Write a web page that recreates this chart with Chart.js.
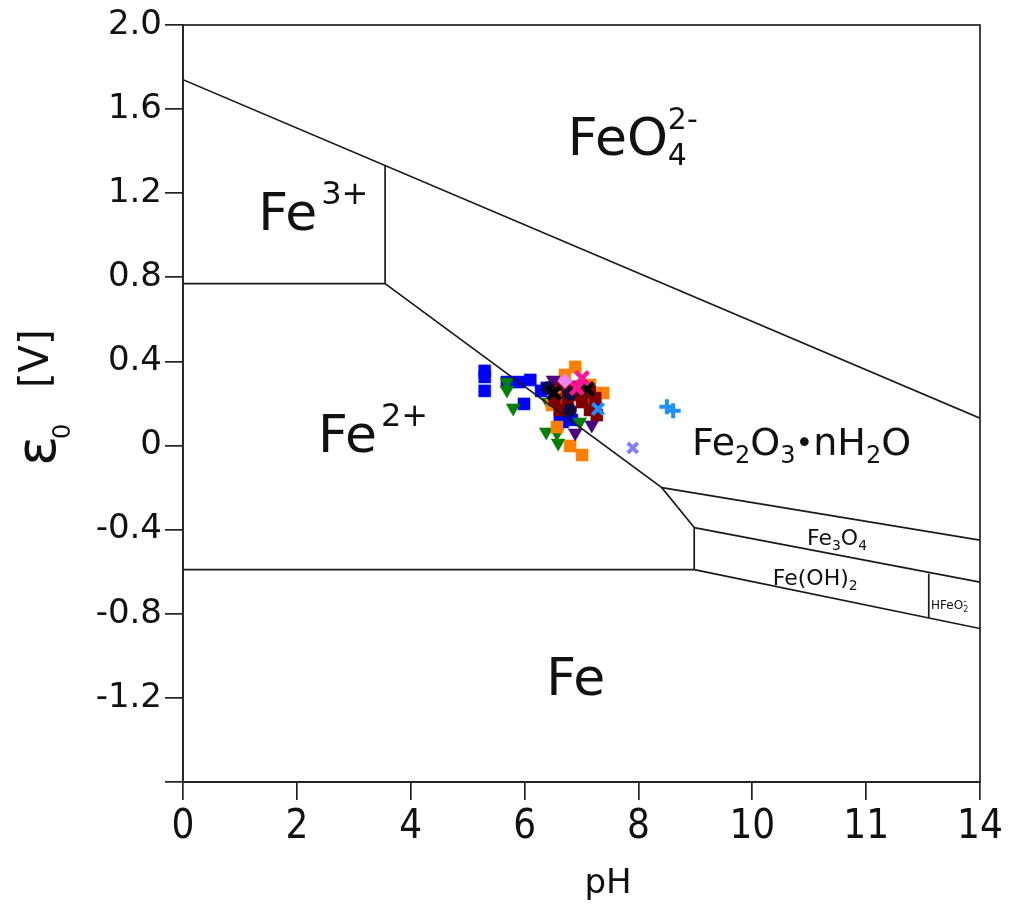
<!DOCTYPE html>
<html>
<head>
<meta charset="utf-8">
<title>Pourbaix diagram - iron</title>
<script src="https://cdn.jsdelivr.net/npm/chart.js@4.4.1/dist/chart.umd.min.js"></script>
<style>
  body { margin: 0; background: #fff; }
  #wrap { width: 1010px; height: 907px; }
</style>
</head>
<body>
<div id="wrap"><canvas id="pourbaix" width="1010" height="907"></canvas></div>
<script>
// axis ticks
var xTickValues = [0, 2, 4, 6, 8, 10, 12, 14];
var xTickLabels = ['0', '2', '4', '6', '8', '10', '11', '14'];
var yTickValues = [-1.6, -1.2, -0.8, -0.4, 0, 0.4, 0.8, 1.2, 1.6, 2.0];
var yTickLabels = ['', '-1.2', '-0.8', '-0.4', '0', '0.4', '0.8', '1.2', '1.6', '2.0'];

// stability field boundaries (pH, E0)
var lineFeO4 = [[0, 1.74], [14, 0.13]];
var lineFe3Fe2 = [[0, 0.77], [3.55, 0.77]];
var lineFe3Oxide = [[3.55, 0.77], [3.55, 1.33]];
var lineFe2Oxide = [[3.55, 0.77], [8.41, -0.20], [8.98, -0.39]];
var lineOxideFe3O4 = [[8.41, -0.20], [14, -0.45]];
var lineFe3O4FeOH2 = [[8.98, -0.39], [14, -0.65]];
var lineFe2FeOH2 = [[8.98, -0.39], [8.98, -0.59]];
var lineFe2Fe = [[0, -0.59], [8.98, -0.59]];
var lineFeOH2Fe = [[8.98, -0.59], [14, -0.87]];
var lineHFeO2 = [[13.1, -0.61], [13.1, -0.82]];

// measured samples (pH, E0), one list per sample group
var blueSquares = [[5.30, 0.355], [5.30, 0.326], [5.30, 0.260], [5.69, 0.302], [5.90, 0.302], [6.10, 0.312],
  [6.29, 0.260], [5.99, 0.198], [6.39, 0.274], [6.67, 0.112], [6.83, 0.122], [6.62, 0.131], [7.24, 0.193]];
var greenTriangles = [[5.69, 0.302], [5.69, 0.264], [5.80, 0.179], [6.41, 0.207], [6.38, 0.065], [6.57, 0.060],
  [6.59, 0.012], [6.97, 0.112]];
var orangeSquares = [[6.89, 0.374], [7.38, 0.250], [6.80, -0.002], [7.01, -0.045], [6.57, 0.088], [6.48, 0.193],
  [6.67, 0.226], [7.06, 0.217], [7.15, 0.288], [6.71, 0.336]];
var maroonSquares = [[6.57, 0.288], [6.75, 0.274], [6.94, 0.279], [7.15, 0.255], [6.53, 0.217], [6.76, 0.217],
  [7.01, 0.207], [7.24, 0.226], [6.62, 0.169], [7.15, 0.169], [7.27, 0.145], [6.89, 0.241]];
var indigoTriangles = [[6.50, 0.312], [6.89, 0.060], [7.18, 0.098]];
var navyCircles = [[6.41, 0.274], [6.80, 0.245], [6.80, 0.169]];
var blackCrosses = [[6.52, 0.250], [7.10, 0.269]];
var pinkCrosses = [[7.01, 0.321], [6.92, 0.274]];
var violetDiamonds = [[6.71, 0.307]];
var skyCrosses = [[7.29, 0.174]];
var skyPluses = [[8.50, 0.184], [8.61, 0.165]];
var slateCrosses = [[7.90, -0.011]];

// region names: [pH, E0 of text start/baseline, parts]
// part = [text, font size, vertical shift, keep x (stacked), extra gap after]
var regionLabels = [
  [6.76, 1.382, [['FeO', 52, 0], ['2-', 30, -26, true], ['4', 30, 10]]],
  [1.32, 1.025, [['Fe', 52, 0, false, 4], ['3+', 32, -26]]],
  [2.37, -0.03, [['Fe', 52, 0, false, 4], ['2+', 32, -26]]],
  [8.94, -0.045, [['Fe', 38, 0], ['2', 24, 8], ['O', 38, 0], ['3', 24, 8], ['\u2022', 30, -2], ['nH', 38, 0], ['2', 24, 8], ['O', 38, 0]]],
  [6.38, -1.186, [['Fe', 52, 0]]],
  [10.96, -0.473, [['Fe', 22, 0], ['3', 14, 5], ['O', 22, 0], ['4', 14, 5]]],
  [10.36, -0.663, [['Fe(OH)', 22, 0], ['2', 14, 5]]],
  [13.14, -0.777, [['HFeO', 12, 0], ['-', 9, -5, true], ['2', 8, 3]]]
];

function toPoints(list) {
  return list.map(function (p) { return { x: p[0], y: p[1] }; });
}

function boundary(list) {
  return {
    type: 'line', data: toPoints(list), showLine: true, fill: false,
    borderColor: '#1a1a1a', borderWidth: 1.7, pointRadius: 0, tension: 0
  };
}

function marks(list, style, color, radius, rotation, lineWidth) {
  var isLine = (style === 'cross' || style === 'crossRot');
  return {
    data: toPoints(list), pointStyle: style, pointRadius: radius, pointRotation: rotation || 0,
    backgroundColor: color, borderColor: color, borderWidth: isLine ? lineWidth : 0.5
  };
}

// draws a run of text pieces with sub/superscripts
function drawRich(ctx, x, y, parts) {
  var cx = x;
  parts.forEach(function (p) {
    ctx.font = p[1] + 'px "DejaVu Sans"';
    ctx.fillText(p[0], cx, y + p[2]);
    if (!p[3]) cx += ctx.measureText(p[0]).width + (p[4] || 0);
  });
}

var pourbaixDecor = {
  id: 'pourbaixDecor',
  afterDraw: function (chart) {
    var ctx = chart.ctx;
    var a = chart.chartArea;
    var xs = chart.scales.x, ys = chart.scales.y;
    ctx.save();
    // box around the plot
    ctx.strokeStyle = '#222';
    ctx.lineWidth = 1.7;
    ctx.strokeRect(a.left, a.top, a.right - a.left, a.bottom - a.top);

    ctx.fillStyle = '#111';
    ctx.textBaseline = 'alphabetic';
    ctx.textAlign = 'left';
    regionLabels.forEach(function (r) {
      drawRich(ctx, xs.getPixelForValue(r[0]), ys.getPixelForValue(r[1]), r[2]);
    });

    // axis titles
    ctx.font = '34px "DejaVu Sans"';
    ctx.textAlign = 'center';
    ctx.fillText('pH', 608, 893);

    ctx.translate(55, 466);
    ctx.rotate(-Math.PI / 2);
    ctx.textAlign = 'left';
    ctx.font = '56px "DejaVu Sans"';
    ctx.fillText('\u03b5', 0, 0);
    ctx.font = '24px "DejaVu Sans"';
    ctx.fillText('0', 27, 15);
    ctx.font = '40px "DejaVu Sans"';
    ctx.fillText('[V]', 78, -7);
    ctx.restore();
  }
};

var datasets = [
  boundary(lineFeO4), boundary(lineFe3Fe2), boundary(lineFe3Oxide), boundary(lineFe2Oxide),
  boundary(lineOxideFe3O4), boundary(lineFe3O4FeOH2), boundary(lineFe2FeOH2), boundary(lineFe2Fe),
  boundary(lineFeOH2Fe), boundary(lineHFeO2),
  marks(skyPluses, 'cross', '#1e90ff', 7.5, 0, 4),
  marks(skyCrosses, 'crossRot', '#1e90ff', 8, 0, 4),
  marks(slateCrosses, 'crossRot', '#8080ff', 7, 0, 4),
  marks(violetDiamonds, 'rectRot', '#ee82ee', 7.5, 0),
  marks(pinkCrosses, 'crossRot', '#ff1493', 9, 0, 4.5),
  marks(blackCrosses, 'crossRot', '#000000', 9, 0, 4.5),
  marks(navyCircles, 'circle', '#0b0b40', 6.5, 0),
  marks(indigoTriangles, 'triangle', '#4b0082', 8, 180),
  marks(maroonSquares, 'rect', '#800000', 8.5, 0),
  marks(orangeSquares, 'rect', '#ff8000', 8.5, 0),
  marks(greenTriangles, 'triangle', '#008000', 8, 180),
  marks(blueSquares, 'rect', '#0000ff', 8.5, 0)
];

var tickFont = { family: '"DejaVu Sans"', size: 34 };

new Chart(document.getElementById('pourbaix'), {
  type: 'scatter',
  data: { datasets: datasets },
  options: {
    responsive: false,
    animation: false,
    layout: { padding: { left: 0, right: 30, top: 25, bottom: 0 } },
    plugins: { legend: { display: false }, tooltip: { enabled: false } },
    scales: {
      x: {
        type: 'linear', min: 0, max: 14,
        afterBuildTicks: function (s) { s.ticks = xTickValues.map(function (v) { return { value: v }; }); },
        afterFit: function (s) { s.height = 125; },
        ticks: {
          autoSkip: false, maxRotation: 0, color: '#111', padding: 4,
          font: { family: '"DejaVu Sans Condensed", "DejaVu Sans"', size: 40 },
          callback: function (v, i) { return xTickLabels[i]; }
        },
        grid: { drawOnChartArea: false, drawTicks: true, tickLength: 18, color: '#222', lineWidth: 1.7 },
        border: { display: true, color: '#222', width: 1.7 }
      },
      y: {
        type: 'linear', min: -1.6, max: 2.0,
        afterBuildTicks: function (s) { s.ticks = yTickValues.map(function (v) { return { value: v }; }); },
        afterFit: function (s) { s.width = 183; },
        ticks: {
          color: '#111', padding: 3, font: tickFont,
          callback: function (v, i) { return yTickLabels[i]; }
        },
        grid: { drawOnChartArea: false, drawTicks: true, tickLength: 18, color: '#222', lineWidth: 1.7 },
        border: { display: true, color: '#222', width: 1.7 }
      }
    }
  },
  plugins: [pourbaixDecor]
});
</script>
</body>
</html>
